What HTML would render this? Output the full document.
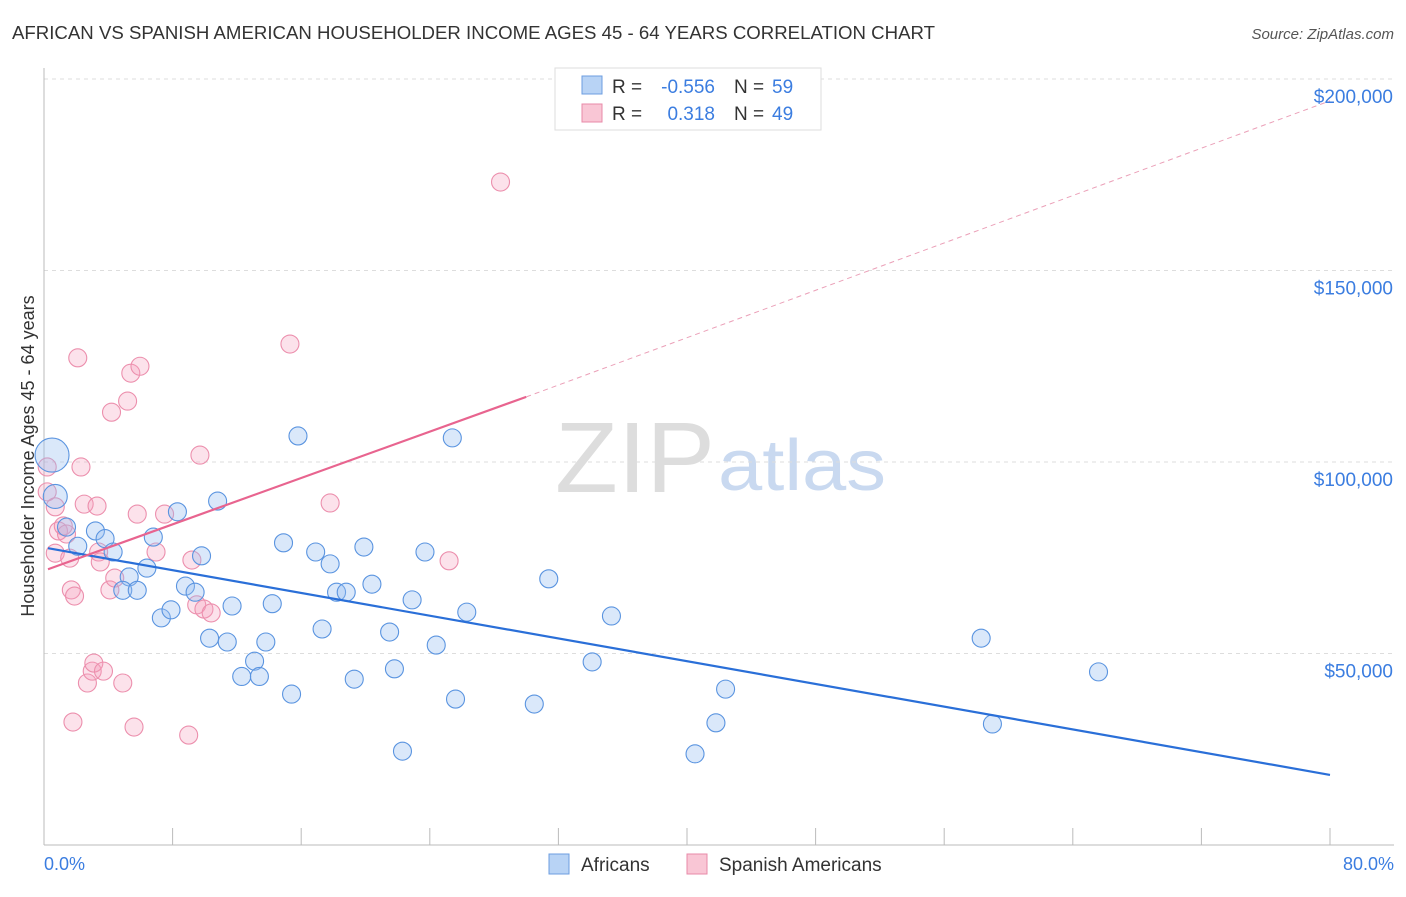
<!DOCTYPE html>
<html><head><meta charset="utf-8"><style>
body{margin:0;background:#fff;font-family:"Liberation Sans",sans-serif}
svg text{font-family:"Liberation Sans",sans-serif}
</style></head><body>
<svg id="c" width="1406" height="892">
<text x="12" y="39" font-size="18" fill="#333" textLength="923" lengthAdjust="spacingAndGlyphs">AFRICAN VS SPANISH AMERICAN HOUSEHOLDER INCOME AGES 45 - 64 YEARS CORRELATION CHART</text>
<text x="1394" y="39" font-size="15" fill="#555" text-anchor="end" font-style="italic">Source: ZipAtlas.com</text>
<text x="555" y="492" font-size="100" fill="#ddd" textLength="160" lengthAdjust="spacingAndGlyphs" font-family="Liberation Serif">ZIP</text>
<text x="718" y="490" font-size="72" fill="#c9d9f0" textLength="168" lengthAdjust="spacingAndGlyphs">atlas</text>
<g id="grid"></g>
<line x1="44" y1="68" x2="44" y2="845" stroke="#bbb"/>
<line x1="44" y1="845" x2="1394" y2="845" stroke="#bbb"/>
<text transform="translate(34,456) rotate(-90)" font-size="18" fill="#333" text-anchor="middle">Householder Income Ages 45 - 64 years</text>
<text x="44" y="870" font-size="18" fill="#3b7de0">0.0%</text>
<text x="1394" y="870" font-size="18" fill="#3b7de0" text-anchor="end">80.0%</text>
<g id="pts"></g><g id="trend"></g>
<g>
<rect x="555" y="68" width="266" height="62" fill="#fff" stroke="#ddd"/>
<rect x="582" y="76" width="20" height="18" fill="#b8d3f5" stroke="#6c9ee0"/>
<rect x="582" y="104" width="20" height="18" fill="#f9c6d5" stroke="#e88aa8"/>
<text x="612" y="93" font-size="19" fill="#333">R =</text>
<text x="715" y="93" font-size="19" fill="#3b7de0" text-anchor="end">-0.556</text>
<text x="734" y="93" font-size="19" fill="#333">N =</text>
<text x="772" y="93" font-size="19" fill="#3b7de0">59</text>
<text x="612" y="120" font-size="19" fill="#333">R =</text>
<text x="715" y="120" font-size="19" fill="#3b7de0" text-anchor="end">0.318</text>
<text x="734" y="120" font-size="19" fill="#333">N =</text>
<text x="772" y="120" font-size="19" fill="#3b7de0">49</text>
</g>
<g>
<rect x="549" y="854" width="20" height="20" fill="#b8d3f5" stroke="#6c9ee0"/>
<text x="581" y="871" font-size="19" fill="#333">Africans</text>
<rect x="687" y="854" width="20" height="20" fill="#f9c6d5" stroke="#e88aa8"/>
<text x="719" y="871" font-size="19" fill="#333">Spanish Americans</text>
</g>
</svg>
<script>
const yTicks=[50000,100000,150000,200000];
const yTickLabels=["$50,000","$100,000","$150,000","$200,000"];
const xTicks=[0,8,16,24,32,40,48,56,64,72,80];
const africanX=[0.5,0.7,1.4,2.1,3.2,3.8,4.3,5.3,4.9,5.8,6.4,6.8,8.3,7.3,7.9,8.8,9.4,9.8,10.8,10.3,11.4,11.7,12.3,13.1,13.4,13.8,14.2,14.9,15.4,15.8,16.9,17.3,17.8,18.2,18.8,19.3,19.9,20.4,21.5,21.8,22.3,22.9,23.7,24.4,25.4,25.6,26.3,30.5,31.4,34.1,35.3,40.5,41.8,42.4,58.3,59.0,65.6];
const africanY=[101.8,91,83,78,82,80,76.5,70,66.5,66.5,72.3,80.4,87,59.3,61.4,67.6,66,75.5,89.8,54,53,62.4,44,48,44,53,63,78.9,39.4,106.8,76.5,56.4,73.4,66,66,43.3,77.8,68.1,55.6,46,24.5,64,76.5,52.2,106.3,38.1,60.8,36.8,69.5,47.8,59.8,23.8,31.9,40.7,54,31.6,45.2];
const spanishX=[0.2,0.2,0.7,0.9,0.7,1.2,1.4,1.6,1.7,1.9,1.8,2.1,2.3,2.5,2.7,3.0,3.1,3.3,3.4,3.5,3.7,4.1,4.2,4.4,4.9,5.2,5.4,5.6,5.97,5.8,6.97,7.5,9.0,9.2,9.5,9.7,9.95,10.4,15.3,17.8,25.2,28.4];
const spanishY=[98.7,92.2,88.3,82,76.2,83.3,81.2,74.9,66.6,65,32.1,127.2,98.7,89,42.3,45.4,47.5,88.5,76.5,73.9,45.4,66.6,113,69.7,42.3,115.9,123.2,30.8,125,86.4,76.5,86.4,28.7,74.4,62.7,101.8,61.6,60.6,130.8,89.3,74.2,173.1];
const africanTrendX=[0,80], africanTrendY=[77.5,18.3];
const spanishTrendX=[0,30,80], spanishTrendY=[72,117,194.3];
const sx=v=>44+v/80*1286;
const sy=v=>845-v/50000*191.5;
const NS="http://www.w3.org/2000/svg";
function mk(t,a,p){const e=document.createElementNS(NS,t);for(const k in a)e.setAttribute(k,a[k]);p.appendChild(e);return e;}
const grid=document.getElementById('grid');
yTicks.forEach((v,i)=>{
  const l=mk('line',{x1:44,x2:1394,y1:sy(v),y2:sy(v),stroke:'#ddd','stroke-dasharray':'4,4'},grid);
  
  
  const t=mk('text',{x:1393,y:sy(v)+24,'font-size':19,fill:'#3b7de0','text-anchor':'end'},grid);
  t.textContent=yTickLabels[i];
  
  
});
xTicks.forEach(v=>{
  const l=mk('line',{x1:sx(v),x2:sx(v),y1:828,y2:845,stroke:'#bbb'},grid);
  
  
});
const pts=document.getElementById('pts');
spanishX.forEach((x,i)=>{
  const c=mk('circle',{cx:sx(x),cy:sy(spanishY[i]*1000),r:9,fill:'rgba(244,160,188,0.3)',stroke:'#ec8fad','stroke-width':1.1},pts);
  
  
});
africanX.forEach((x,i)=>{
  const c=mk('circle',{cx:sx(x),cy:sy(africanY[i]*1000),r:i==0?17:(i==1?12:9),fill:'rgba(150,190,240,0.35)',stroke:'#5a94e0','stroke-width':1.1},pts);
  
  
});
const tr=document.getElementById('trend');
const b=mk('line',{x1:sx(africanTrendX[0])+4,y1:sy(africanTrendY[0]*1000),x2:sx(africanTrendX[1]),y2:sy(africanTrendY[1]*1000),stroke:'#2a6fd8','stroke-width':2.2},tr);


const p1=mk('line',{x1:sx(spanishTrendX[0])+4,y1:sy(spanishTrendY[0]*1000),x2:sx(spanishTrendX[1]),y2:sy(spanishTrendY[1]*1000),stroke:'#e8648f','stroke-width':2.2},tr);


const p2=mk('line',{x1:sx(spanishTrendX[1]),y1:sy(spanishTrendY[1]*1000),x2:sx(spanishTrendX[2]),y2:sy(spanishTrendY[2]*1000),stroke:'#eba0b8','stroke-width':1,'stroke-dasharray':'5,4'},tr);


</script>
</body></html>
